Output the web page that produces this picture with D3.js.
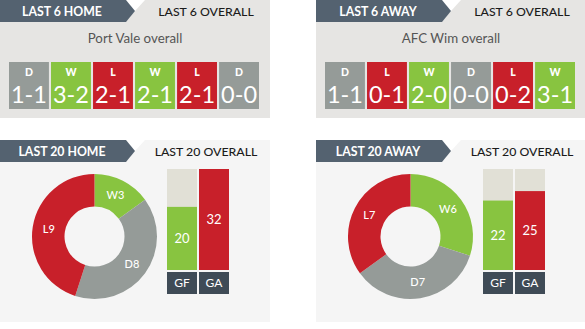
<!DOCTYPE html>
<html><head><meta charset="utf-8">
<script src="https://cdn.jsdelivr.net/npm/d3@7"></script>
<style>
html,body{margin:0;padding:0;background:#fff;}
svg{display:block;font-family:Lato,"Open Sans",sans-serif;}
</style></head>
<body>
<svg id="c" width="585" height="329"></svg>
<script>
// ---- data ----
const teamTitles = ["Port Vale overall", "AFC Wim overall"];
const last6Tabs = ["LAST 6 HOME", "LAST 6 AWAY"];
const last6OverallLabel = "LAST 6 OVERALL";
const last20Tabs = ["LAST 20 HOME", "LAST 20 AWAY"];
const last20OverallLabel = "LAST 20 OVERALL";
const homeLast6Results = ["D", "W", "L", "W", "L", "D"];
const homeLast6Scores = ["1-1", "3-2", "2-1", "2-1", "2-1", "0-0"];
const awayLast6Results = ["D", "L", "W", "D", "L", "W"];
const awayLast6Scores = ["1-1", "0-1", "2-0", "0-0", "0-2", "3-1"];
const outcomeCategories = ["W", "D", "L"];
const homeOutcomeCounts = [3, 8, 9];
const awayOutcomeCounts = [6, 7, 7];
const goalCategories = ["GF", "GA"];
const homeGoals = [20, 32];
const awayGoals = [22, 25];

// ---- style ----
const colors = { W: "#88c440", D: "#959b98", L: "#c8202a" };
const goalColors = { GF: "#88c440", GA: "#c8202a" };
const tabColor = "#546270";
const labelBoxColor = "#3f4b56";
const barBg = "#e1e0d6";

const svg = d3.select("#c");

const panels = [
  { x0: 0, results: homeLast6Results, scores: homeLast6Scores, title: teamTitles[0], tab6: last6Tabs[0], tab20: last20Tabs[0], counts: homeOutcomeCounts, goals: homeGoals },
  { x0: 316, results: awayLast6Results, scores: awayLast6Scores, title: teamTitles[1], tab6: last6Tabs[1], tab20: last20Tabs[1], counts: awayOutcomeCounts, goals: awayGoals }
];

const goalMax = d3.max(homeGoals.concat(awayGoals));

function header(g, y, bg, tabText, otherText) {
  const h = g.append("g").attr("transform", `translate(0,${y})`);
  h.append("path").attr("d", "M145,0L270,0L270,22L125,22Z").attr("fill", bg);
  h.append("path").attr("d", "M0,0L126,0L135,11L126,22L0,22Z").attr("fill", tabColor);
  h.append("text").attr("x", 62).attr("y", 15.5).attr("text-anchor", "middle")
    .attr("fill", "#fff").attr("font-weight", "bold").attr("font-size", 12.3).text(tabText);
  h.append("text").attr("x", 206).attr("y", 15.5).attr("text-anchor", "middle")
    .attr("fill", "#1b1b1b").attr("font-weight", 500).attr("font-size", 12.3).text(otherText);
}

panels.forEach(p => {
  const g = svg.append("g").attr("transform", `translate(${p.x0},0)`);

  // ---- top: last 6 ----
  g.append("rect").attr("x", 0).attr("y", 22).attr("width", 270).attr("height", 96).attr("fill", "#e6e5e3");
  header(g, 0, "#e6e5e3", p.tab6, last6OverallLabel);
  g.append("text").attr("x", 135).attr("y", 43).attr("text-anchor", "middle")
    .attr("fill", "#555").attr("font-size", 13.3).text(p.title);

  const xb = d3.scaleBand().domain(d3.range(p.results.length)).range([9, 259]).paddingInner(0.05);
  const boxes = g.selectAll("g.box").data(p.results.map((r, i) => ({ r, s: p.scores[i], i })))
    .enter().append("g").attr("class", "box").attr("transform", d => `translate(${xb(d.i)},62)`);
  boxes.append("rect").attr("width", xb.bandwidth()).attr("height", 47).attr("fill", d => colors[d.r]);
  boxes.append("text").attr("x", xb.bandwidth() / 2).attr("y", 14).attr("text-anchor", "middle")
    .attr("fill", "#fff").attr("font-weight", 900).attr("font-size", 10.5).text(d => d.r);
  boxes.append("text").attr("x", xb.bandwidth() / 2).attr("y", 40.5).attr("text-anchor", "middle")
    .attr("fill", "#fff").attr("font-size", 23.5).text(d => d.s);

  // ---- bottom: last 20 ----
  g.append("rect").attr("x", 0).attr("y", 162).attr("width", 270).attr("height", 160).attr("fill", "#f5f5f5");
  header(g, 140, "#f5f5f5", p.tab20, last20OverallLabel);

  const cx = 94.5, cy = 236.5, rO = 62.5, rI = 30;
  const pie = d3.pie().sort(null).value(d => d.v);
  const arcs = pie(outcomeCategories.map((c, i) => ({ c, v: p.counts[i] })));
  const arc = d3.arc().innerRadius(rI).outerRadius(rO);
  const lab = d3.arc().innerRadius((rI + rO) / 2).outerRadius((rI + rO) / 2);
  const dg = g.append("g").attr("transform", `translate(${cx},${cy})`);
  dg.selectAll("path").data(arcs).enter().append("path").attr("d", arc).attr("fill", d => colors[d.data.c]);
  dg.selectAll("text").data(arcs).enter().append("text")
    .attr("transform", d => `translate(${lab.centroid(d)})`).attr("dy", "0.35em")
    .attr("text-anchor", "middle").attr("fill", "#fff").attr("font-size", 11).attr("font-weight", 500)
    .text(d => d.data.c + d.data.v);

  const xg = d3.scaleBand().domain(goalCategories).range([167, 229]).paddingInner(0.0625);
  const yg = d3.scaleLinear().domain([0, goalMax]).range([270, 169]);
  const goalData = goalCategories.map((c, i) => ({ c, v: p.goals[i] }));
  const bars = g.selectAll("g.bar").data(goalData).enter().append("g").attr("class", "bar");
  bars.append("rect").attr("x", d => xg(d.c)).attr("y", yg(goalMax)).attr("width", xg.bandwidth())
    .attr("height", yg(0) - yg(goalMax)).attr("fill", barBg);
  bars.append("rect").attr("x", d => xg(d.c)).attr("y", d => yg(d.v)).attr("width", xg.bandwidth())
    .attr("height", d => yg(0) - yg(d.v)).attr("fill", d => goalColors[d.c]);
  bars.append("text").attr("x", d => xg(d.c) + xg.bandwidth() / 2).attr("y", d => (yg(d.v) + yg(0)) / 2)
    .attr("dy", "0.35em").attr("text-anchor", "middle").attr("fill", "#fff").attr("font-size", 13).text(d => d.v);
  bars.append("rect").attr("x", d => xg(d.c)).attr("y", 272).attr("width", xg.bandwidth()).attr("height", 22)
    .attr("fill", labelBoxColor);
  bars.append("text").attr("x", d => xg(d.c) + xg.bandwidth() / 2).attr("y", 283).attr("dy", "0.35em")
    .attr("text-anchor", "middle").attr("fill", "#fff").attr("font-size", 12).text(d => d.c);
});
</script>
</body></html>
